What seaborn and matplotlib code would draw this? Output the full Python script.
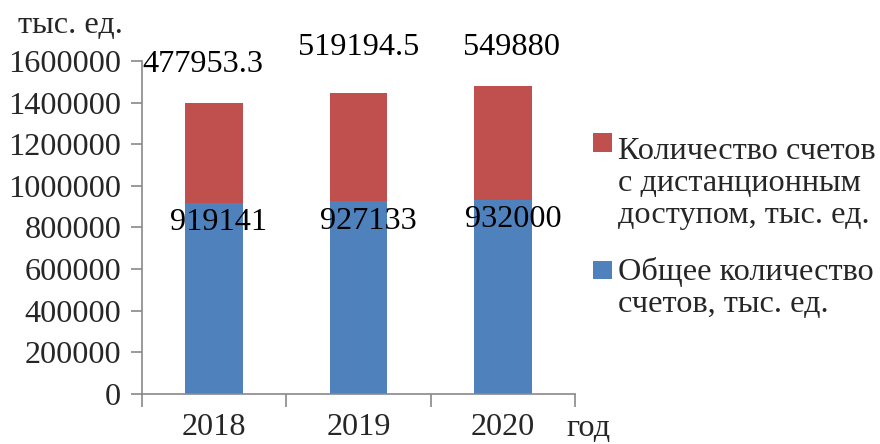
import matplotlib
matplotlib.use("Agg")
import matplotlib.pyplot as plt
import matplotlib.patches as mpatches
import seaborn as sns
import pandas as pd

# Data
years = ["2018", "2019", "2020"]
total_accounts = [919141, 927133, 932000]
remote_accounts = [477953.3, 519194.5, 549880]
total_labels = ["919141", "927133", "932000"]
remote_labels = ["477953.3", "519194.5", "549880"]
y_ticks = [0, 200000, 400000, 600000, 800000, 1000000, 1200000, 1400000, 1600000]

legend_remote = "Количество счетов\nс дистанционным\nдоступом, тыс. ед."
legend_total = "Общее количество\nсчетов, тыс. ед."

# Label placement (data coordinates)
remote_label_pos = [(-0.08, 1600000), (1.0, 1682000), (2.06, 1682000)]
total_label_pos = [(0.03, 841000), (1.07, 846000), (2.075, 855000)]

RED = "#C0504D"
BLUE = "#4F81BD"
AXIS = "#898989"

sns.set_theme(style="white")
plt.rcParams["font.family"] = ["Liberation Serif", "DejaVu Serif"]
FS = 23.2

df = pd.DataFrame({
    "year": years,
    "total": total_accounts,
    "remote": remote_accounts,
})
df["stack_top"] = df["total"] + df["remote"]

fig = plt.figure(figsize=(8.8, 4.44), dpi=100)
ax = fig.add_axes([142 / 880, 1 - 394 / 444, 433 / 880, 333 / 444])

# Stacked bars: full height in red, then the lower segment in blue on top
sns.barplot(data=df, x="year", y="stack_top", color=RED, width=0.4,
            saturation=1, linewidth=0, edgecolor="none", ax=ax)
sns.barplot(data=df, x="year", y="total", color=BLUE, width=0.4,
            saturation=1, linewidth=0, edgecolor="none", ax=ax)

ax.set_xlim(-0.5, 2.5)
ax.set_ylim(0, 1600000)
ax.set_yticks(y_ticks)
ax.set_yticklabels([str(v) for v in y_ticks], fontsize=FS)
ax.set_xticks([0, 1, 2])
ax.set_xticklabels(years, fontsize=FS)
ax.set_xticks([-0.5, 0.5, 1.5, 2.5], minor=True)
ax.tick_params(axis="x", which="major", length=0, pad=14)
ax.tick_params(axis="x", which="minor", length=9, width=1.2, color=AXIS,
               direction="out", bottom=True)
ax.tick_params(axis="y", which="major", length=8, width=1.2, color=AXIS,
               direction="out", left=True, pad=7)
ax.set_xlabel("")
ax.set_ylabel("")
for side in ("top", "right"):
    ax.spines[side].set_visible(False)
for side in ("left", "bottom"):
    ax.spines[side].set_color(AXIS)
    ax.spines[side].set_linewidth(1.2)

for (x, y), txt in zip(remote_label_pos, remote_labels):
    ax.text(x, y, txt, ha="center", va="center_baseline", fontsize=FS,
            color="black", clip_on=False)
for (x, y), txt in zip(total_label_pos, total_labels):
    ax.text(x, y, txt, ha="center", va="center_baseline", fontsize=FS,
            color="black", clip_on=False)

# Axis captions
fig.text(18 / 880, 1 - 33 / 444, "тыс. ед.", ha="left", va="baseline",
         fontsize=FS)
fig.text(566 / 880, 1 - 436 / 444, "год", ha="left", va="baseline",
         fontsize=FS)

# Legend
fig.patches.append(mpatches.Rectangle((593 / 880, 1 - 152 / 444), 19 / 880,
                                      19 / 444, transform=fig.transFigure,
                                      facecolor=RED, edgecolor="none"))
fig.text(618 / 880, 1 - 223 / 444, legend_remote, ha="left", va="baseline",
         fontsize=FS, linespacing=1.14)
fig.patches.append(mpatches.Rectangle((593 / 880, 1 - 279 / 444), 19 / 880,
                                      18 / 444, transform=fig.transFigure,
                                      facecolor=BLUE, edgecolor="none"))
fig.text(618 / 880, 1 - 312 / 444, legend_total, ha="left", va="baseline",
         fontsize=FS, linespacing=1.14)

fig.savefig("out.png", dpi=100)
